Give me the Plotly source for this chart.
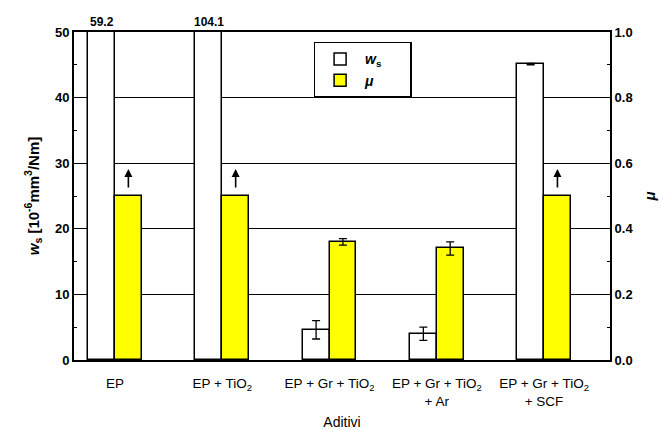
import plotly.graph_objects as go

categories = ["EP", "EP + TiO<sub>2</sub>", "EP + Gr + TiO<sub>2</sub>",
              "EP + Gr + TiO<sub>2</sub><br>+ Ar", "EP + Gr + TiO<sub>2</sub><br>+ SCF"]
ws_values = [59.2, 104.1, 4.6, 4.0, 45.1]
ws_errors = [None, None, 1.4, 1.0, 0.1]
mu_values = [0.5, 0.5, 0.36, 0.34, 0.5]
mu_errors = [None, None, 0.01, 0.02, None]
mu_exceeds = [True, True, False, False, True]
ws_off_scale_labels = ["59.2", "104.1", None, None, None]

FONT = "Liberation Sans, Arial, sans-serif"
x = list(range(len(categories)))
W = 0.25

fig = go.Figure()
fig.add_trace(go.Bar(
    x=x, y=ws_values, width=W, offset=-W, name="<b><i>w</i><sub>s</sub></b>&nbsp;&nbsp;&nbsp;&nbsp;&nbsp;&nbsp;",
    marker=dict(color="white", line=dict(color="black", width=1.5)),
    yaxis="y",
))
fig.add_trace(go.Bar(
    x=x, y=mu_values, width=W, offset=0, name="<b><i>μ</i></b>",
    marker=dict(color="#FFFF00", line=dict(color="black", width=1.5)),
    yaxis="y2",
))

# error bars only where the reference shows them
ex_ws = [i - W / 2 for i, e in enumerate(ws_errors) if e is not None]
ey_ws = [ws_values[i] for i, e in enumerate(ws_errors) if e is not None]
ee_ws = [e for e in ws_errors if e is not None]
fig.add_trace(go.Scatter(x=ex_ws, y=ey_ws, mode="markers", marker=dict(size=1, opacity=0),
                         error_y=dict(type="data", array=ee_ws, color="black", thickness=1.3, width=4),
                         showlegend=False, hoverinfo="skip", yaxis="y"))
ex_mu = [i + W / 2 for i, e in enumerate(mu_errors) if e is not None]
ey_mu = [mu_values[i] for i, e in enumerate(mu_errors) if e is not None]
ee_mu = [e for e in mu_errors if e is not None]
fig.add_trace(go.Scatter(x=ex_mu, y=ey_mu, mode="markers", marker=dict(size=1, opacity=0),
                         error_y=dict(type="data", array=ee_mu, color="black", thickness=1.3, width=4),
                         showlegend=False, hoverinfo="skip", yaxis="y2"))

annotations = []
for i, lab in enumerate(ws_off_scale_labels):
    if lab:
        annotations.append(dict(x=i - W / 2, y=50, xref="x", yref="y", text="<b>" + lab + "</b>",
                                showarrow=False, yanchor="bottom", yshift=1,
                                font=dict(family=FONT, size=12, color="black")))
for i, ex in enumerate(mu_exceeds):
    if ex:
        annotations.append(dict(x=i + W / 2, y=mu_values[i], xref="x", yref="y2", text="",
                                showarrow=True, ax=0, ay=20, yshift=27,
                                standoff=0, arrowhead=2, arrowsize=1,
                                arrowwidth=1.6, arrowcolor="black"))

fig.update_layout(
    width=661, height=430,
    margin=dict(l=74, r=51, t=32, b=70),
    paper_bgcolor="white", plot_bgcolor="white",
    showlegend=True,
    legend=dict(x=0.447, y=0.97, xanchor="left", yanchor="top",
                bordercolor="black", borderwidth=1.5, bgcolor="white",
                font=dict(family=FONT, size=14, color="black"),
                itemwidth=40, tracegroupgap=0),
    xaxis=dict(range=[-0.382, 4.615], tickmode="array", tickvals=x, ticktext=categories,
               showgrid=False, showline=True, linecolor="black", linewidth=2, mirror=True,
               ticks="", zeroline=False, ticklabelstandoff=10, automargin=False,
               tickfont=dict(family=FONT, size=13.5, color="black"),
               title=dict(text="Aditivi", font=dict(family=FONT, size=14, color="black"), standoff=18)),
    yaxis=dict(range=[0, 50], tickvals=[0, 10, 20, 30, 40, 50], showgrid=True,
               gridcolor="black", gridwidth=1.2, showline=True, linecolor="black", linewidth=2,
               ticks="inside", ticklen=5, tickcolor="black", zeroline=False, automargin=False,
               minor=dict(tickvals=[5, 15, 25, 35, 45], ticks="inside", ticklen=3, tickcolor="black"),
               tickfont=dict(family=FONT, size=13, color="black", weight="bold"),
               title=dict(text="<b><i>w</i><sub>s</sub> [10<sup>-6</sup>mm<sup>3</sup>/Nm]</b>",
                          font=dict(family=FONT, size=15, color="black"), standoff=12)),
    yaxis2=dict(range=[0, 1.0], tickvals=[0, 0.2, 0.4, 0.6, 0.8, 1.0],
                ticktext=["0.0", "0.2", "0.4", "0.6", "0.8", "1.0"],
                overlaying="y", side="right", showgrid=False, showline=True,
                linecolor="black", linewidth=2, ticks="inside", ticklen=5, tickcolor="black",
                zeroline=False, automargin=False,
                minor=dict(tickvals=[0.1, 0.3, 0.5, 0.7, 0.9], ticks="inside", ticklen=3, tickcolor="black"),
                tickfont=dict(family=FONT, size=13, color="black", weight="bold"),
                title=dict(text="<b><i>μ</i></b>", font=dict(family=FONT, size=15, color="black"), standoff=12)),
    annotations=annotations,
    bargap=0,
)
fig.write_html("out.html")
